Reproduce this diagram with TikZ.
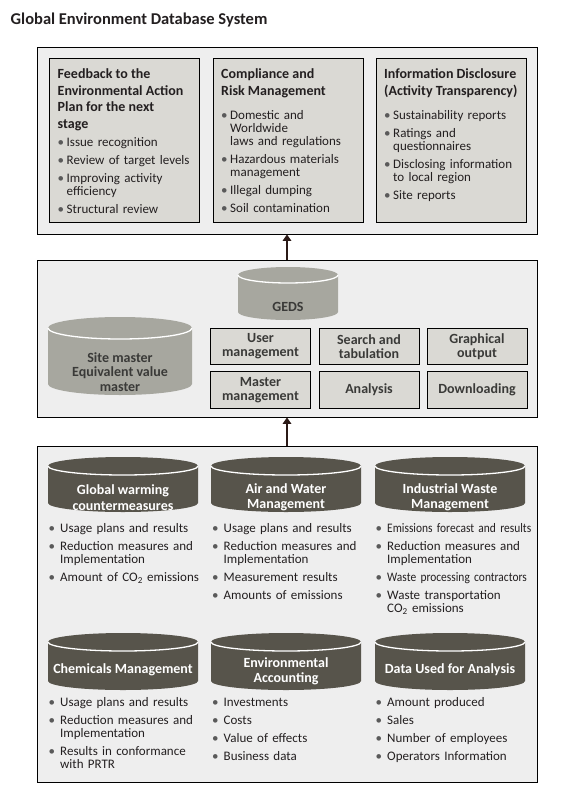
\documentclass[tikz,border=0pt]{standalone}
\usepackage{fontspec}
\setmainfont{Carlito}
\newfontfamily\narrowfont[FakeStretch=0.88]{Carlito}
\usetikzlibrary{arrows.meta}

\definecolor{framefill}{HTML}{EEEEEE}
\definecolor{panelfill}{HTML}{DAD9D4}
\definecolor{drumlight}{HTML}{A7A79F}
\definecolor{drumdark}{HTML}{57544B}
\definecolor{inkdark}{HTML}{231F20}
\definecolor{labelgray}{HTML}{3A3A38}
\definecolor{arrowink}{HTML}{2B1A17}
\definecolor{dotgray}{HTML}{5A5A5A}

\newlength{\bulw}
\newcommand{\bit}[1]{\hangindent=\bulw\hangafter=1\noindent\strut\hbox to \bulw{\textcolor{dotgray}{\textbullet}\hss}#1\par}

% drum: fill, centre x, half width, top, bottom, rim depth
\newcommand{\drum}[6]{%
  \fill[#1] (#2-#3,#4+#6) arc[start angle=180,end angle=360,x radius=#3,y radius=#6]
    -- (#2+#3,#5-#6) arc[start angle=0,end angle=180,x radius=#3,y radius=#6] -- cycle;
  \draw[rimline] (#2-#3,#4+#6) arc[start angle=180,end angle=0,x radius=#3,y radius=#6];
}

\begin{document}
\begin{tikzpicture}[x=1pt,y=-1pt]
  \tikzset{
    frame/.style={draw=black,fill=framefill,line width=0.8pt,inner sep=0pt,minimum width=500},
    panel/.style={draw=black,fill=panelfill,line width=0.8pt,inner sep=0pt,minimum width=150,minimum height=164},
    paneltitle/.style={anchor=north west,inner sep=0pt,align=left,text=inkdark,font=\bfseries\fontsize{14}{16.5}\selectfont},
    bullets/.style={anchor=north west,inner sep=0pt,text width=160pt,text=inkdark,font=\fontsize{13}{13}\selectfont,
      execute at begin node={\setlength{\parskip}{5pt}\setlength{\parindent}{0pt}\setlength{\bulw}{#1}}},
    bullets/.default=11.5pt,
    toolbox/.style={draw=black,fill=panelfill,line width=0.8pt,inner sep=0pt,minimum width=100,minimum height=36.5,
      align=center,text=labelgray,font=\bfseries\fontsize{14}{14}\selectfont},
    lightlabel/.style={inner sep=0pt,align=center,text=labelgray,font=\bfseries\fontsize{14}{14.5}\selectfont},
    darklabel/.style={inner sep=0pt,align=center,text=white,font=\bfseries\fontsize{14}{15.5}\selectfont},
    rimline/.style={draw=white,line width=1.3pt},
    uparrow/.style={draw=arrowink,line width=2.4pt,-{Triangle[width=8.5pt,length=6.5pt]}}
  }
  \useasboundingbox (0,0) rectangle (582,797);

  \node[anchor=base west,inner sep=0pt,text=inkdark,font=\bfseries\fontsize{16.5}{18}\selectfont] (title) at (10.5,24.5) {Global Environment Database System};

  % the three frames
  \node[frame,minimum height=187] (topframe) at (287,140.5) {};
  \node[frame,minimum height=157] (midframe) at (287,338.5) {};
  \node[frame,minimum height=336] (botframe) at (287,614) {};

  \draw[uparrow] (midframe.north) -- (topframe.south);
  \draw[uparrow] (botframe.north) -- (midframe.south);

  % top frame: uses of the data
  \node[panel] (feedback) at (124,140) {};
  \node[panel] (compliance) at (288,140) {};
  \node[panel] (disclosure) at (451,140) {};

  \node[paneltitle] (feedbacktitle) at (57.5,67) {\strut Feedback to the\\Environmental Action\\Plan for the next\\stage};
  \node[paneltitle] (compliancetitle) at (221,67) {\strut Compliance and\\Risk Management};
  \node[paneltitle] (disclosuretitle) at (384,67) {\strut Information Disclosure\\(Activity Transparency)};

  \node[bullets=9pt] (feedbacklist) at (57.5,137) {\bit{Issue recognition}\bit{Review of target levels}\bit{Improving activity\newline efficiency}\bit{Structural review}};
  \node[bullets=9pt] (compliancelist) at (221,110.5) {\bit{Domestic and\newline Worldwide\newline laws and regulations}\bit{Hazardous materials\newline management}\bit{Illegal dumping}\bit{Soil contamination}};
  \node[bullets=9pt] (disclosurelist) at (384,110.5) {\bit{Sustainability reports}\bit{Ratings and\newline questionnaires}\bit{Disclosing information\newline to local region}\bit{Site reports}};

  % middle frame: GEDS
  \drum{drumlight}{288}{50}{267}{320}{8}
  \node[lightlabel] (geds) at (288,307) {GEDS};
  \drum{drumlight}{120}{72}{317}{395}{11}
  \node[lightlabel] (sitemaster) at (120,372) {Site master\\Equivalent value\\master};

  \node[toolbox] (usermgmt) at (260.5,346.5) {User\\management};
  \node[toolbox] (search) at (369,346.5) {Search and\\tabulation};
  \node[toolbox] (graphical) at (477,346.5) {Graphical\\output};
  \node[toolbox] (mastermgmt) at (260.5,390) {Master\\management};
  \node[toolbox] (analysis) at (369,390) {Analysis};
  \node[toolbox] (download) at (477,390) {Downloading};

  % bottom frame: source databases
  \drum{drumdark}{123}{75}{457}{512}{9}
  \drum{drumdark}{286}{75}{457}{512}{9}
  \drum{drumdark}{450}{75}{457}{512}{9}
  \drum{drumdark}{123}{75}{633}{690}{9}
  \drum{drumdark}{286}{75}{633}{690}{9}
  \drum{drumdark}{450}{75}{633}{690}{9}

  \node[darklabel] (warming) at (123,497.5) {Global warming\\countermeasures};
  \node[darklabel] (airwater) at (286,497.5) {Air and Water\\Management};
  \node[darklabel] (waste) at (450,497.5) {Industrial Waste\\Management};
  \node[darklabel] (chemicals) at (123,670) {Chemicals Management};
  \node[darklabel] (accounting) at (286,671.5) {Environmental\\Accounting};
  \node[darklabel] (analysisdata) at (450,670) {Data Used for Analysis};

  \node[bullets] (warminglist) at (48.5,523.5) {\bit{Usage plans and results}\bit{Reduction measures and\newline Implementation}\bit{Amount of CO\textsubscript{2} emissions}};
  \node[bullets] (airwaterlist) at (212,523.5) {\bit{Usage plans and results}\bit{Reduction measures and\newline Implementation}\bit{Measurement results}\bit{Amounts of emissions}};
  \node[bullets] (wastelist) at (375.5,523.5) {\bit{{\narrowfont Emissions forecast and results}}\bit{Reduction measures and\newline Implementation}\bit{{\narrowfont Waste processing contractors}}\bit{Waste transportation\newline CO\textsubscript{2} emissions}};
  \node[bullets] (chemicalslist) at (48.5,697.5) {\bit{Usage plans and results}\bit{Reduction measures and\newline Implementation}\bit{Results in conformance\newline with PRTR}};
  \node[bullets] (accountinglist) at (212,697.5) {\bit{Investments}\bit{Costs}\bit{Value of effects}\bit{Business data}};
  \node[bullets] (analysisdatalist) at (375.5,697.5) {\bit{Amount produced}\bit{Sales}\bit{Number of employees}\bit{Operators Information}};
\end{tikzpicture}
\end{document}
